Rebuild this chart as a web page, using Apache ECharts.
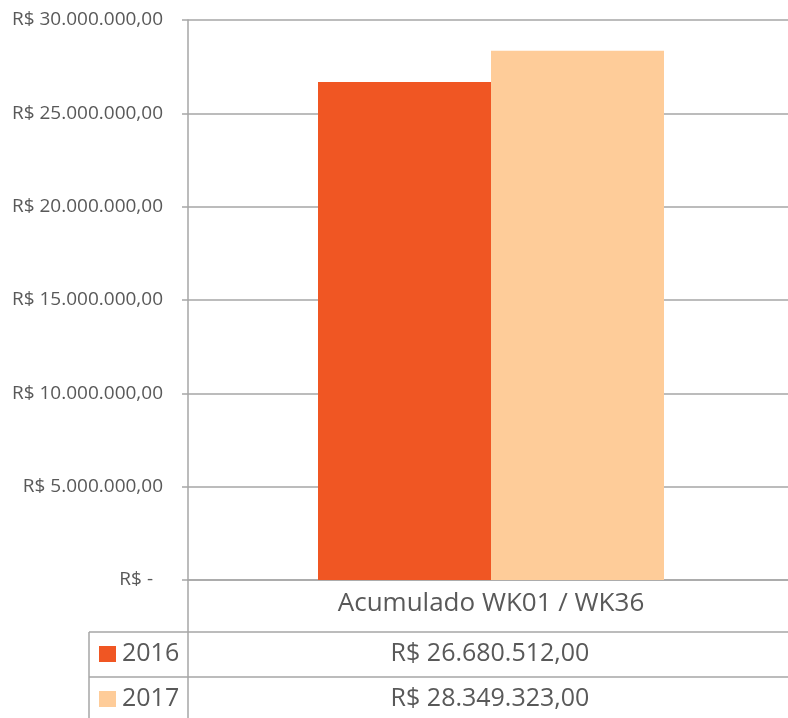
<!DOCTYPE html>
<html>
<head>
<meta charset="utf-8">
<script src="https://cdn.jsdelivr.net/npm/echarts@6/dist/echarts.min.js"></script>
<style>
html,body{margin:0;padding:0;background:#fff;}
#c{width:788px;height:718px;}
</style>
</head>
<body>
<div id="c"></div>
<script>
// ---- data ----
const categories = ['Acumulado WK01 / WK36'];
const seriesNames = ['2016', '2017'];
const values2016 = [26680512.00];
const values2017 = [28349323.00];
const yTicks = [0, 5000000, 10000000, 15000000, 20000000, 25000000, 30000000];

const colors = ['#F05623', '#FECC99'];
const FONT = 'Open Sans';
const TXT = '#595959';
const LINE = '#A6A6A6';

function brl(v) {
  if (v === 0) return 'R$ -';
  const parts = v.toFixed(2).split('.');
  const intPart = parts[0].replace(/\B(?=(\d{3})+(?!\d))/g, '.');
  return 'R$ ' + intPart + ',' + parts[1];
}

const G = {left: 188, right: 0, top: 20, bottom: 138};
const W = 788, H = 718;
const axisBottom = H - G.bottom; // 580
const row1Top = 632, row2Top = 677;
const tableLeft = 89;

const chart = echarts.init(document.getElementById('c'), null, {renderer: 'canvas'});

const allSeries = [values2016, values2017];

const graphics = [
  {type: 'line', shape: {x1: G.left, y1: axisBottom, x2: G.left, y2: H}, style: {stroke: LINE, lineWidth: 1.5}, silent: true},
  {type: 'line', shape: {x1: tableLeft, y1: row1Top, x2: W, y2: row1Top}, style: {stroke: LINE, lineWidth: 1.5}, silent: true},
  {type: 'line', shape: {x1: tableLeft, y1: row2Top, x2: W, y2: row2Top}, style: {stroke: LINE, lineWidth: 1.5}, silent: true},
  {type: 'line', shape: {x1: tableLeft, y1: row1Top, x2: tableLeft, y2: H}, style: {stroke: LINE, lineWidth: 1.5}, silent: true}
];
const rowTops = [row1Top, row2Top];
const centerX = 490;
seriesNames.forEach(function (name, i) {
  const cy = rowTops[i] + 22;
  graphics.push({type: 'rect', shape: {x: 99, y: cy - 8, width: 17, height: 16}, style: {fill: colors[i]}, silent: true});
  graphics.push({type: 'text', x: 122, y: cy, style: {text: name, fill: TXT, font: '25px "' + FONT + '"', textVerticalAlign: 'middle', textAlign: 'left'}, silent: true});
  graphics.push({type: 'text', x: centerX, y: cy, style: {text: brl(allSeries[i][0]), fill: TXT, font: '25px "' + FONT + '"', textVerticalAlign: 'middle', textAlign: 'center'}, silent: true});
});

// invisible spacer series keeps the bar pair slightly right of the category centre
const spacer = {
  name: 'spacer', type: 'bar', data: [0], barWidth: 6, barGap: '0%',
  itemStyle: {color: 'rgba(0,0,0,0)'}, silent: true
};

chart.setOption({
  animation: false,
  backgroundColor: '#fff',
  grid: {left: G.left, right: G.right, top: G.top, bottom: G.bottom, containLabel: false},
  xAxis: {
    type: 'category',
    data: categories,
    axisLine: {show: true, lineStyle: {color: LINE, width: 1.5}},
    axisTick: {show: false},
    axisLabel: {color: TXT, fontFamily: FONT, fontSize: 26, margin: 11,
      formatter: function (v) { return '{a|' + v + '}'; },
      rich: {a: {color: TXT, fontFamily: FONT, fontSize: 26, padding: [0, 0, 0, 6]}}}
  },
  yAxis: {
    type: 'value',
    min: yTicks[0],
    max: yTicks[yTicks.length - 1],
    interval: yTicks[1] - yTicks[0],
    axisLine: {show: true, lineStyle: {color: LINE, width: 1.5}},
    axisTick: {show: true, length: 6, lineStyle: {color: LINE, width: 1.5}},
    splitLine: {show: true, lineStyle: {color: LINE, width: 1.5}},
    axisLabel: {
      color: TXT, fontFamily: FONT, fontSize: 19, margin: 25,
      formatter: function (v) { return v === 0 ? '{z|' + brl(v) + '}' : brl(v); },
      rich: {z: {color: TXT, fontFamily: FONT, fontSize: 19, padding: [0, 10, 0, 0]}}
    }
  },
  series: [spacer].concat(seriesNames.map(function (name, i) {
    return {
      name: name,
      type: 'bar',
      data: allSeries[i],
      barWidth: 173,
      barGap: '0%',
      itemStyle: {color: colors[i]}
    };
  })),
  graphic: graphics
});
</script>
</body>
</html>
